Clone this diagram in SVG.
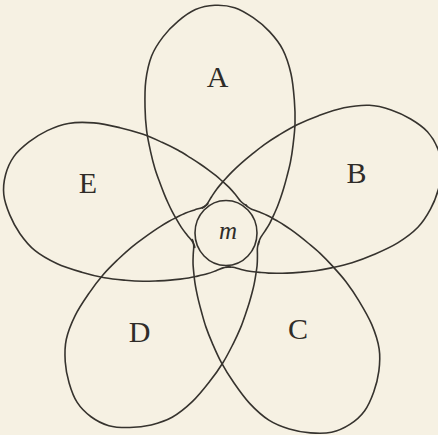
<svg xmlns="http://www.w3.org/2000/svg" width="438" height="435" viewBox="0 0 438 435">
<style>
.bg{fill:#f6f1e3}
.ln{fill:none;stroke:#36332e;stroke-width:1.6;stroke-linejoin:round;stroke-linecap:round}
.lbl{font-family:"Liberation Serif","Times New Roman",serif;font-size:30px;fill:#2f2c28;text-anchor:middle}
.it{font-family:"Liberation Serif","Times New Roman",serif;font-size:25px;font-style:italic;fill:#2f2c28;text-anchor:middle}
</style>
<defs>
<path id="lobe" class="ln" d="M -31.89,12.89 C -32.04,12.09 -31.91,11.65 -32.34,10.51 C -32.77,9.38 -33.36,7.83 -34.47,6.08 C -35.58,4.33 -37.36,2.32 -39,0 C -40.64,-2.32 -42.52,-4.79 -44.32,-7.81 C -46.12,-10.83 -48.35,-15.31 -49.80,-18.13 C -51.25,-20.95 -51.94,-22.33 -53.02,-24.72 C -54.10,-27.12 -55.16,-29.64 -56.29,-32.5 C -57.42,-35.36 -58.59,-38.40 -59.80,-41.87 C -61.02,-45.35 -62.23,-49.02 -63.58,-53.35 C -64.93,-57.69 -66.59,-62.60 -67.88,-67.88 C -69.18,-73.16 -70.28,-78.66 -71.35,-85.03 C -72.42,-91.40 -73.71,-98.67 -74.28,-106.08 C -74.85,-113.49 -75.02,-121.17 -74.75,-129.47 C -74.49,-137.77 -74.20,-147.40 -72.69,-155.89 C -71.18,-164.38 -68.90,-173.24 -65.67,-180.42 C -62.44,-187.60 -57.99,-193.43 -53.32,-198.98 C -48.66,-204.53 -43.29,-209.42 -37.68,-213.70 C -32.07,-217.98 -25.93,-222.26 -19.65,-224.64 C -13.37,-227.02 -6.55,-228 0,-228 C 6.55,-228 13.37,-227.02 19.65,-224.64 C 25.93,-222.26 32.07,-217.98 37.68,-213.70 C 43.29,-209.42 48.66,-204.53 53.32,-198.98 C 57.99,-193.43 62.44,-187.60 65.67,-180.42 C 68.90,-173.24 71.18,-164.38 72.69,-155.89 C 74.20,-147.40 74.49,-137.77 74.75,-129.47 C 75.02,-121.17 74.85,-113.49 74.28,-106.08 C 73.71,-98.67 72.42,-91.40 71.35,-85.03 C 70.28,-78.66 69.18,-73.16 67.88,-67.88 C 66.59,-62.60 64.93,-57.69 63.58,-53.35 C 62.23,-49.02 61.02,-45.35 59.80,-41.87 C 58.59,-38.40 57.42,-35.36 56.29,-32.5 C 55.16,-29.64 54.10,-27.12 53.02,-24.72 C 51.94,-22.33 51.25,-20.95 49.80,-18.13 C 48.35,-15.31 46.12,-10.83 44.32,-7.81 C 42.52,-4.79 40.64,-2.32 39,0 C 37.36,2.32 35.58,4.33 34.47,6.08 C 33.36,7.83 32.77,9.38 32.34,10.51 C 31.91,11.65 32.04,12.09 31.89,12.89"/>
</defs>
<rect class="bg" x="0" y="0" width="438" height="435"/>
<g id="connectors">
<use href="#lobe" transform="translate(226,233) rotate(-2.8)"/>
<use href="#lobe" transform="translate(226,233) rotate(68.3)"/>
<use href="#lobe" transform="translate(226,233) rotate(147.1)"/>
<use href="#lobe" transform="translate(226,233) rotate(216.3)"/>
<use href="#lobe" transform="translate(226,233) rotate(284.8)"/>
</g>
<g id="m">
<ellipse class="ln" cx="226" cy="233" rx="31" ry="32.5"/>
<text class="it" x="228" y="238.5">m</text>
</g>
<g id="A"><text class="lbl" x="217.5" y="87">A</text></g>
<g id="B"><text class="lbl" x="356.5" y="183">B</text></g>
<g id="C"><text class="lbl" x="298" y="338.5">C</text></g>
<g id="D"><text class="lbl" x="139.5" y="342">D</text></g>
<g id="E"><text class="lbl" x="88" y="192.5">E</text></g>
</svg>
